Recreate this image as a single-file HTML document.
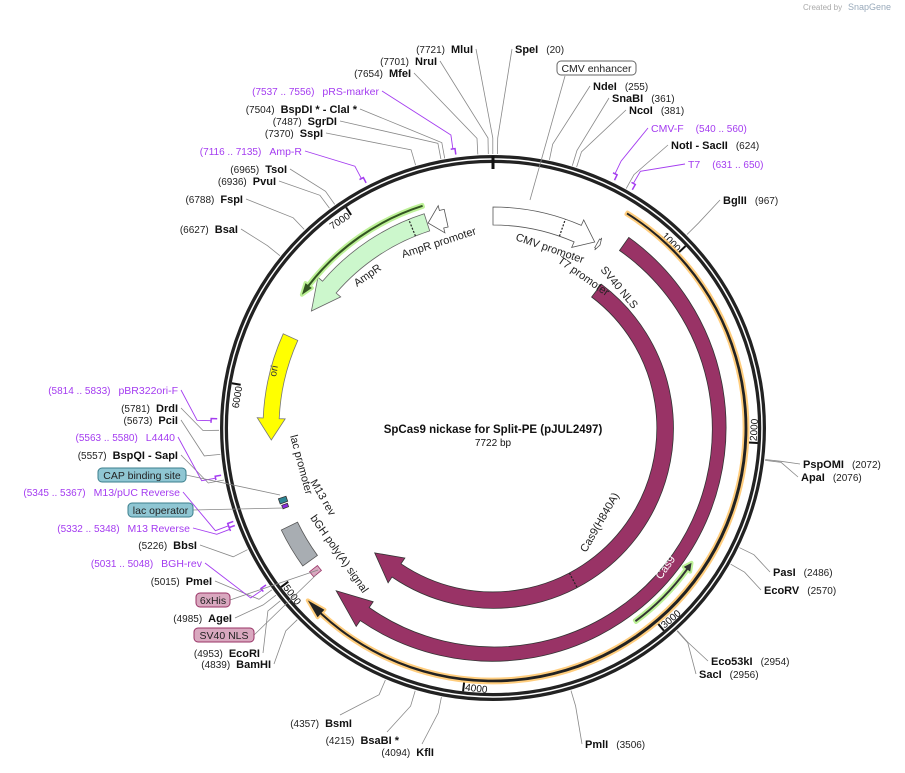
<!DOCTYPE html>
<html><head><meta charset="utf-8"><style>
body{margin:0;background:#fff;}
svg{display:block;font-family:"Liberation Sans","DejaVu Sans",sans-serif;}
.num{font-size:10px;font-weight:normal;fill:#222;}
.nm{font-size:11px;font-weight:bold;fill:#111;}
.pr{font-size:10.5px;fill:#a43cf0;}
.prn{font-size:10px;fill:#a43cf0;}
.ft{font-size:11px;fill:#222;}
</style></head><body>
<svg id="map" width="905" height="773" viewBox="0 0 905 773" xmlns="http://www.w3.org/2000/svg">
<text x="803" y="10" font-size="8" fill="#aaa">Created by</text>
<text x="848" y="10" font-size="9" fill="#9ab">SnapGene</text>
<g id="ring"></g>
<g id="feat"></g>
<g id="lead"></g>
<g id="lbl"></g>
<text x="493" y="433" text-anchor="middle" font-size="11.5" font-weight="bold" fill="#111">SpCas9 nickase for Split-PE (pJUL2497)</text>
<text x="493" y="446" text-anchor="middle" font-size="10" fill="#111">7722 bp</text>
</svg>
<script>
const N = 7722;
const cx = 493, cy = 428;
const tickValues = [1000,2000,3000,4000,5000,6000,7000];
// features
const featNames = ["CMV promoter","T7 promoter","Cas9","Cas9(H840A)","Cas9 ORF","SV40 NLS","AmpR","AmpR promoter","AmpR ORF","ori","bGH poly(A) signal","lac promoter","M13 rev","6xHis"];
const featStarts = [0,631,761,793,686,2664,6495,7345,6540,5725,5020,5370,5340,4940];
const featEnds = [615,650,4803,4793,4870,3080,7340,7452,7345,6310,5240,5400,5360,4975];
const featDirs = [1,1,1,1,1,-1,-1,-1,-1,-1,0,0,0,0];
// sites
const siteNames = ["MluI","NruI","MfeI","BspDI * - ClaI *","SgrDI","SspI","TsoI","PvuI","FspI","BsaI","DrdI","PciI","BspQI  - SapI","BbsI","PmeI","AgeI","EcoRI","BamHI","BsmI","BsaBI *","KflI","SpeI","NdeI","SnaBI","NcoI","NotI  - SacII","BglII","PspOMI","ApaI","PasI","EcoRV","Eco53kI","SacI","PmlI"];
const sitePos = [7721,7701,7654,7504,7487,7370,6965,6936,6788,6627,5781,5673,5557,5226,5015,4985,4953,4839,4357,4215,4094,20,255,361,381,624,967,2072,2076,2486,2570,2954,2956,3506];
// primers
const primerNames = ["pRS-marker","Amp-R","pBR322ori-F","L4440","M13/pUC Reverse","M13 Reverse","BGH-rev","CMV-F","T7"];
const primerStarts = [7537,7116,5814,5563,5345,5332,5031,540,631];
const primerEnds = [7556,7135,5833,5580,5367,5348,5048,560,650];

const NS="http://www.w3.org/2000/svg";
function el(tag, attrs, parent){const e=document.createElementNS(NS,tag);for(const k in attrs)e.setAttribute(k,attrs[k]);parent.appendChild(e);return e;}
function ang(bp){return bp/N*2*Math.PI;}
function pt(bp,r){const a=ang(bp);return [cx+r*Math.sin(a), cy-r*Math.cos(a)];}
function f(p){return p[0].toFixed(1)+","+p[1].toFixed(1);}
function arcTo(bp0,bp1,r){const la=Math.abs(bp1-bp0)>N/2?1:0;const sw=bp1>bp0?1:0;return "A"+r+","+r+" 0 "+la+" "+sw+" "+f(pt(bp1,r));}
function arrowPath(s,e,r,w,dir,h,ext){
  const o=r+w/2,i=r-w/2;
  if(dir>0){const m=e-h;return "M"+f(pt(s,o))+arcTo(s,m,o)+"L"+f(pt(m,o+ext))+"L"+f(pt(e,r))+"L"+f(pt(m,i-ext))+"L"+f(pt(m,i))+arcTo(m,s,i)+"Z";}
  if(dir<0){const m=s+h;return "M"+f(pt(m,o))+arcTo(m,e,o)+"L"+f(pt(e,i))+arcTo(e,m,i)+"L"+f(pt(m,i-ext))+"L"+f(pt(s,r))+"L"+f(pt(m,o+ext))+"Z";}
  return "M"+f(pt(s,o))+arcTo(s,e,o)+"L"+f(pt(e,i))+arcTo(e,s,i)+"Z";
}
const ring=document.getElementById('ring'),feat=document.getElementById('feat'),lead=document.getElementById('lead'),lbl=document.getElementById('lbl');
let c=el('circle',{cx:cx,cy:cy,r:269,fill:'none',stroke:'#222','stroke-width':8},ring);


c=el('circle',{cx:cx,cy:cy,r:269,fill:'none',stroke:'#fff','stroke-width':1.5},ring);


let t0=el('line',{x1:cx,y1:cy-272,x2:cx,y2:cy-259,stroke:'#111','stroke-width':3},ring);


tickValues.forEach(v=>{
  const p1=pt(v,265),p2=pt(v,256);
  const t=el('line',{x1:p1[0],y1:p1[1],x2:p2[0],y2:p2[1],stroke:'#111','stroke-width':2},ring);
  
  
  const deg=v/N*360;const flip=deg>90&&deg<270;
  const p=pt(v-8,flip?264:254);
  const tx=el('text',{x:p[0],y:p[1],'font-size':10,fill:'#111','text-anchor':flip?'start':'end',transform:'rotate('+(flip?deg-180:deg)+' '+p[0]+' '+p[1]+')'},ring);
  tx.textContent=v;
  
  
});
const sty=[
 {r:212,w:18,fill:'#fff',stroke:'#555',h:110,ext:6},
 {r:212,w:10,fill:'#fff',stroke:'#555',h:12,ext:2},
 {r:226,w:16,fill:'#993366',stroke:'#333',h:200,ext:7},
 {r:172,w:16,fill:'#993366',stroke:'#333',h:200,ext:7},
 {r:253,w:2,fill:'#222',stroke:'#ffc870',h:90,ext:4,line:1},
 {r:240,w:2,fill:'#333',stroke:'#b6f08c',h:40,ext:3,line:1},
 {r:216,w:18,fill:'#ccf7cc',stroke:'#666',h:170,ext:6},
 {r:215,w:18,fill:'#fff',stroke:'#555',h:80,ext:5},
 {r:233,w:2,fill:'#335522',stroke:'#b6f08c',h:60,ext:3,line:1},
 {r:222,w:16,fill:'#ffff00',stroke:'#777',h:120,ext:6},
 {r:226,w:18,fill:'#a8adb2',stroke:'#555',h:0,ext:0},
 {r:222,w:8,fill:'#2d8796',stroke:'#333',h:0,ext:0},
 {r:222,w:6,fill:'#8a2be2',stroke:'#333',h:0,ext:0},
 {r:228,w:10,fill:'#d9a8bf',stroke:'#993366',h:0,ext:0}
];
featNames.forEach((n,k)=>{
  const s=sty[k];
  const d=arrowPath(featStarts[k],featEnds[k],s.r,s.w,featDirs[k],s.h,s.ext);
  if(s.line){const g=el('path',{d:d,fill:s.stroke,stroke:s.stroke,'stroke-width':4,'stroke-linejoin':'round',opacity:0.9},feat);
    
    }
  const p=el('path',{d:d,fill:s.fill,stroke:s.line?'none':s.stroke,'stroke-width':0.8},feat);
  
  
});
[[410,212,18],[7250,216,18],[3265,172,16]].forEach(q=>{
  const a=pt(q[0],q[1]-q[2]/2),b=pt(q[0],q[1]+q[2]/2);
  const l=el('line',{x1:a[0],y1:a[1],x2:b[0],y2:b[1],stroke:'#222','stroke-dasharray':'2,1.5','stroke-width':1.2},feat);
  
  
});
const inner=[["CMV promoter",515,240,19],["T7 promoter",557,262,35],["SV40 NLS",600,270,50],["AmpR promoter",403,258,-18],["AmpR",357,287,-35],["lac promoter",290,436,75],["M13 rev",310,482,60],["bGH poly(A) signal",310,518,55],["Cas9(H840A)",586,553,-60]];
inner.forEach(q=>{const t=el('text',{x:q[1],y:q[2],class:'ft',transform:'rotate('+q[3]+' '+q[1]+' '+q[2]+')'},lbl);t.textContent=q[0];
  
  });
let tc=el('text',{x:661,y:580,'font-size':11,fill:'#fff',transform:'rotate(-55 661 580)'},lbl);tc.textContent='Cas9';


let to=el('text',{x:276,y:377,'font-size':10,fill:'#333',transform:'rotate(-80 276 377)'},lbl);to.textContent='ori';


const siteLay=[[473,53,'L'],[437,65,'L'],[411,77,'L'],[357,113,'L'],[337,125,'L'],[323,137,'L'],[287,173,'L'],[276,185,'L'],[243,203,'L'],[238,233,'L'],[178,412,'L'],[178,424,'L'],[178,459,'L'],[197,549,'L'],[212,585,'L'],[232,622,'L'],[260,657,'L'],[271,668,'L'],[352,727,'B'],[399,744,'B'],[434,756,'B'],[515,53,'R'],[593,90,'R'],[612,102,'R'],[629,114,'R'],[671,149,'R'],[723,204,'R'],[803,468,'R'],[801,481,'R'],[773,576,'R'],[764,594,'R'],[711,665,'R'],[699,678,'R'],[585,748,'R']];
function leader(x,y,bp,col,parent){
  const a=pt(bp,290),b=pt(bp,274);
  const l=el('polyline',{points:x+','+y+' '+f(a)+' '+f(b),fill:'none',stroke:col,'stroke-width':0.8},parent);
  
  
}
siteNames.forEach((n,k)=>{
  const L=siteLay[k];let t;
  if(L[2]==='R'){
    t=el('text',{x:L[0],y:L[1]},lbl);
    t.innerHTML='<tspan class="nm">'+n+'</tspan><tspan class="num" dx="8">('+sitePos[k]+')</tspan>';
    leader(L[0]-3,L[1]-4,sitePos[k],'#888',lead);
  }else{
    t=el('text',{x:L[0],y:L[1],'text-anchor':'end'},lbl);
    t.innerHTML='<tspan class="num">('+sitePos[k]+')</tspan><tspan class="nm" dx="6">'+n+'</tspan>';
    if(L[2]==='B')leader(L[0]-12,L[1]-12,sitePos[k],'#888',lead);
    else leader(L[0]+3,L[1]-4,sitePos[k],'#888',lead);
  }
  
  
});
const primLay=[[379,95,'L'],[302,155,'L'],[178,394,'L'],[175,441,'L'],[180,496,'L'],[190,532,'L'],[202,567,'L'],[651,132,'R'],[688,168,'R']];
primerNames.forEach((n,k)=>{
  const L=primLay[k];const s=primerStarts[k],e=primerEnds[k];
  const pa=el('path',{d:'M'+f(pt(s,282))+arcTo(s,e,282)+'L'+f(pt(e,276)),fill:'none',stroke:'#a43cf0','stroke-width':1.5},lead);
  
  
  const mid=(s+e)/2;const a=pt(mid,296),b=pt(mid,282);
  const x0=L[2]==='R'?L[0]-3:L[0]+3;
  const pl=el('polyline',{points:x0+','+(L[1]-4)+' '+f(a)+' '+f(b),fill:'none',stroke:'#a43cf0','stroke-width':0.9},lead);
  
  
  let t;
  if(L[2]==='R'){t=el('text',{x:L[0],y:L[1]},lbl);t.innerHTML='<tspan class="pr">'+n+'</tspan><tspan class="prn" dx="12">('+s+' .. '+e+')</tspan>';}
  else{t=el('text',{x:L[0],y:L[1],'text-anchor':'end'},lbl);t.innerHTML='<tspan class="prn">('+s+' .. '+e+')</tspan><tspan class="pr" dx="8">'+n+'</tspan>';}
  
  
});
const boxes=[["CMV enhancer",557,61,79,'#fff','#666',530,200],["CAP binding site",98,468,88,'#8fc6d3','#3b7f8c',280,495],["lac operator",128,503,65,'#8fc6d3','#3b7f8c',283,508],["6xHis",196,593,34,'#d9a8bf','#993366',318,570],["SV40 NLS",194,628,60,'#d9a8bf','#993366',316,575]];
boxes.forEach(b=>{
  const ls=b[1]<400?[b[1]+b[3],b[2]+7]:[b[1]+8,b[2]+15];
  const l=el('line',{x1:ls[0],y1:ls[1],x2:b[6],y2:b[7],stroke:'#888','stroke-width':0.8},lead);
  
  
  const r=el('rect',{x:b[1],y:b[2],width:b[3],height:14,rx:4,fill:b[4],stroke:b[5],'stroke-width':1},lbl);
  
  
  const t=el('text',{x:b[1]+b[3]/2,y:b[2]+11,'text-anchor':'middle','font-size':10.5,fill:'#222'},lbl);t.textContent=b[0];
  
  
});
</script>
</body></html>
